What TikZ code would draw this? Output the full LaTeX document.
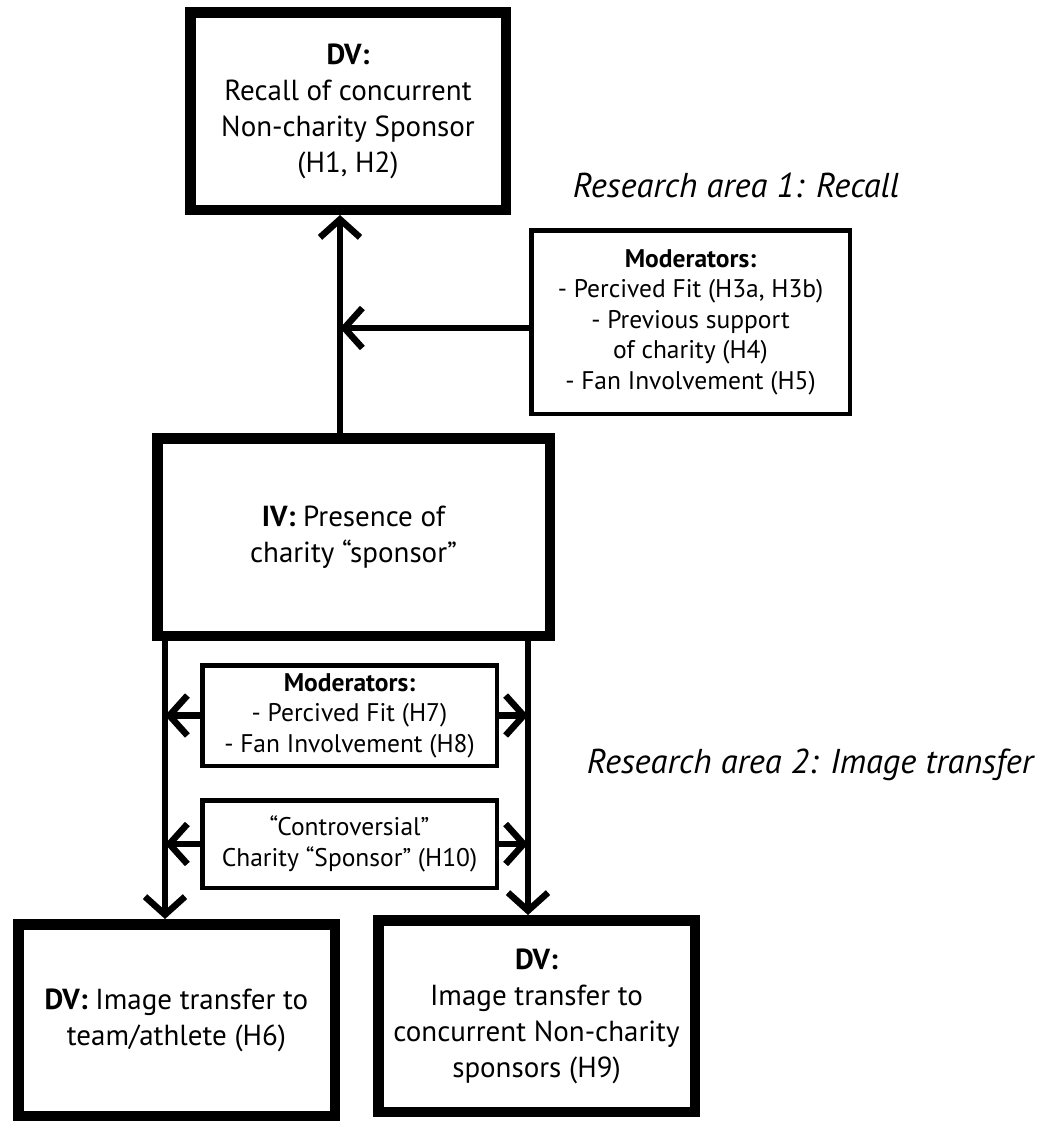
\documentclass[tikz,border=0pt]{standalone}
\usepackage{fontspec}
\setmainfont{PT Sans}
\usetikzlibrary{arrows.meta}
\newcommand{\bigfnt}{\fontsize{29}{36}\selectfont}
\newcommand{\smallfnt}{\fontsize{25.5}{30.5}\selectfont}
\newcommand{\labfnt}{\fontsize{34.5}{40}\selectfont\itshape}
\begin{document}
\begin{tikzpicture}[x=1pt,y=-1pt,
  bigbox/.style={draw, line width=10.5pt, outer sep=5.25pt, align=center, inner sep=0pt, font=\bigfnt},
  modbox/.style={draw, line width=4.5pt, outer sep=2.25pt, align=center, inner sep=0pt, font=\smallfnt},
  arr/.style={line width=6.5pt, -{Straight Barb[length=18pt,width=40pt]}},
  lab/.style={inner sep=0pt, font=\labfnt}]
\useasboundingbox (0,0) rectangle (1058,1122);
\fill[white] (0,0) rectangle (1058,1122);

\node[bigbox, minimum width=315.5pt, minimum height=197.5pt] (top) at (348,111)
  {\textbf{DV:}\\Recall of concurrent\\Non-charity Sponsor\\(H1, H2)};
\node[bigbox, minimum width=392.5pt, minimum height=197.5pt] (iv) at (353.5,537)
  {\textbf{IV:} Presence of\\charity “sponsor”};
\node[bigbox, minimum width=316.5pt, minimum height=191.5pt] (bl) at (176.5,1020)
  {\textbf{DV:} Image transfer to\\team/athlete (H6)};
\node[bigbox, minimum width=316.5pt, minimum height=191.5pt] (br) at (536.5,1016)
  {\textbf{DV:}\\Image transfer to\\concurrent Non-charity\\sponsors (H9)};

\node[modbox, minimum width=318.5pt, minimum height=183.5pt] (mod1) at (690.5,322)
  {\textbf{Moderators:}\\- Percived Fit (H3a, H3b)\\- Previous support\\of charity (H4)\\- Fan Involvement (H5)};
\node[modbox, minimum width=294.5pt, minimum height=100.5pt] (mod2) at (349.5,715.5)
  {\textbf{Moderators:}\\- Percived Fit (H7)\\- Fan Involvement (H8)};
\node[modbox, minimum width=294.5pt, minimum height=87.5pt] (contr) at (349.5,844)
  {“Controversial”\\Charity “Sponsor” (H10)};

\node[lab] (ra1) at (736,185) {Research area 1: Recall};
\node[lab] (ra2) at (810,765) {Research area 2: Image transfer};

\coordinate (vx) at (340,0);
\coordinate (xl) at (165,0);
\coordinate (xr) at (528,0);
\coordinate (j1) at (340,328);

\draw[arr] (iv.north -| vx) -- (top.south -| vx);
\draw[arr] (mod1.west |- j1) -- (j1);
\draw[arr] (iv.south -| xl) -- (bl.north -| xl);
\draw[arr] (iv.south -| xr) -- (br.north -| xr);
\draw[arr] (mod2.west) -- (mod2.west -| xl);
\draw[arr] (mod2.east) -- (mod2.east -| xr);
\draw[arr] (contr.west) -- (contr.west -| xl);
\draw[arr] (contr.east) -- (contr.east -| xr);
\end{tikzpicture}
\end{document}
